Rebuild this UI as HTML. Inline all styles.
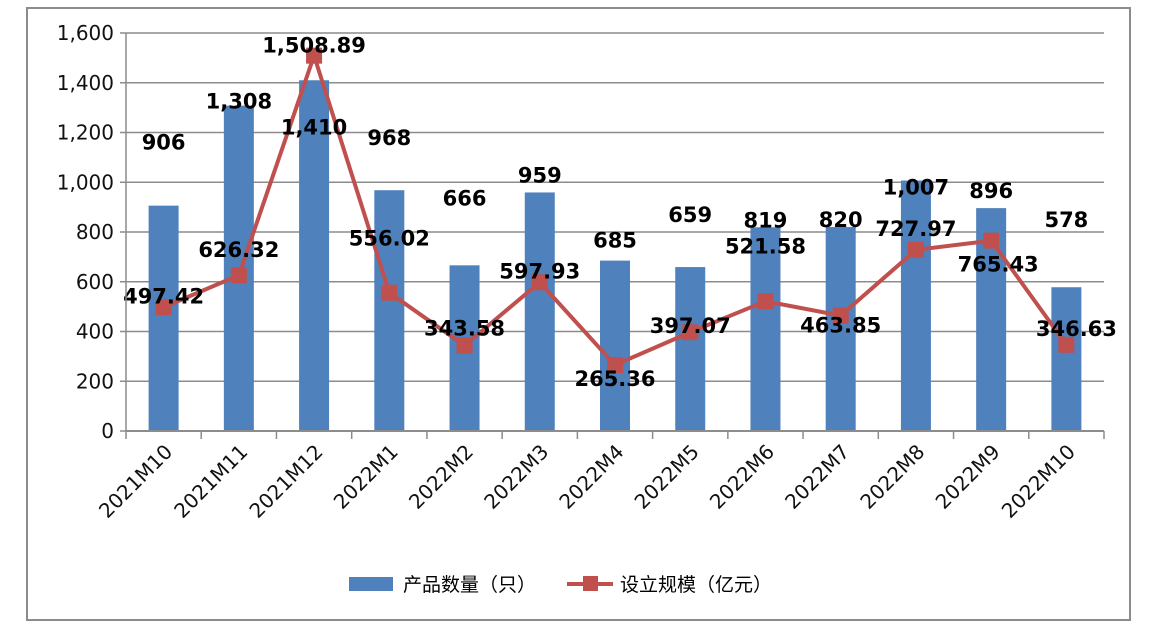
<!DOCTYPE html>
<html><head><meta charset="utf-8"><style>
body{margin:0;background:#fff;width:1167px;height:641px;overflow:hidden}
svg{display:block}
text{font-family:"DejaVu Sans","Liberation Sans","Noto Sans CJK SC",sans-serif}
</style></head><body>
<svg id="c" width="1167" height="641">
<rect x="27" y="8" width="1103" height="612" fill="#fff" stroke="#8c8c8c" stroke-width="2"/>
<g id="grid"></g><g id="bars"></g><g id="line"></g><g id="labels"></g><g id="axes"></g>
<g>
<rect x="349" y="577" width="44" height="14" fill="#4f81bd"/>
<text x="403" y="591" font-size="19" font-family="Noto Sans CJK SC">产品数量（只）</text>
<line x1="567" y1="584" x2="613" y2="584" stroke="#c0504d" stroke-width="4"/>
<rect x="583" y="576" width="15" height="15" fill="#c0504d"/>
<text x="620" y="591" font-size="19" font-family="Noto Sans CJK SC">设立规模（亿元）</text>
</g>
</svg>
<script>
const categories=["2021M10","2021M11","2021M12","2022M1","2022M2","2022M3","2022M4","2022M5","2022M6","2022M7","2022M8","2022M9","2022M10"];
const counts=[906,1308,1410,968,666,959,685,659,819,820,1007,896,578];
const scales=[497.42,626.32,1508.89,556.02,343.58,597.93,265.36,397.07,521.58,463.85,727.97,765.43,346.63];
const countLabels=["906","1,308","1,410","968","666","959","685","659","819","820","1,007","896","578"];
const scaleLabels=["497.42","626.32","1,508.89","556.02","343.58","597.93","265.36","397.07","521.58","463.85","727.97","765.43","346.63"];
const yTicks=[0,200,400,600,800,1000,1200,1400,1600];
const yTickLabels=["0","200","400","600","800","1,000","1,200","1,400","1,600"];
// label nudges (layout, px)
const countDy=[-56,3,54,-45,-60,-10,-13,-45,0,0,14,-10,-60];
const scaleDy=[-11,-25,-10,-54,-17,-11,14,-6,-55,10,-21,24,-16];
const scaleDx=[0,0,0,0,0,0,0,0,0,0,0,7,10];
const L=126,R=1104,T=33,B=431,N=categories.length,cw=(R-L)/N;
const x=i=>L+cw*(i+0.5), y=v=>B-(v/1600)*(B-T);
const NS="http://www.w3.org/2000/svg";
function mk(p,tag,a){const e=document.createElementNS(NS,tag);for(const k in a)e.setAttribute(k,a[k]);document.getElementById(p).appendChild(e);return e;}
yTicks.forEach((t,i)=>{
 const g=mk('grid','line',{x1:L-6,x2:R,y1:y(t),y2:y(t),stroke:'#8c8c8c','stroke-width':1.5});
 
 
 const tx=mk('axes','text',{x:L-12,y:y(t)+7,'text-anchor':'end','font-size':20,fill:'#111'});
 tx.textContent=yTickLabels[i];
 
 
});
const ya=mk('axes','line',{x1:L,x2:L,y1:T,y2:B,stroke:'#8c8c8c','stroke-width':1.5});


const xa=mk('axes','line',{x1:L,x2:R,y1:B,y2:B,stroke:'#8c8c8c','stroke-width':2});


for(let i=0;i<=N;i++){const tk=mk('axes','line',{x1:L+cw*i,x2:L+cw*i,y1:B,y2:B+8,stroke:'#8c8c8c','stroke-width':1.5});
 
 }
categories.forEach((c,i)=>{
 const b=mk('bars','rect',{x:x(i)-15,y:y(counts[i]),width:30,height:B-y(counts[i]),fill:'#4f81bd'});
 
 
 const t=mk('axes','text',{x:x(i)+10,y:B+22,'text-anchor':'end','font-size':20,fill:'#111',transform:`rotate(-45 ${x(i)+10} ${B+22})`});
 t.textContent=c;
 
 
 const bl=mk('labels','text',{x:x(i),y:y(counts[i])+countDy[i],'text-anchor':'middle','font-size':21,'font-weight':'bold',fill:'#000'});
 bl.textContent=countLabels[i];
 
 
});
const pl=mk('line','polyline',{points:scales.map((v,i)=>x(i)+','+y(v)).join(' '),fill:'none',stroke:'#c0504d','stroke-width':4});


scales.forEach((v,i)=>{
 const m=mk('line','rect',{x:x(i)-8,y:y(v)-8,width:16,height:16,fill:'#c0504d'});
 
 
 const t=mk('labels','text',{x:x(i)+scaleDx[i],y:y(v)+scaleDy[i]+7,'text-anchor':'middle','font-size':21,'font-weight':'bold',fill:'#000'});
 t.textContent=scaleLabels[i];
 
 
});
</script>
</body></html>
